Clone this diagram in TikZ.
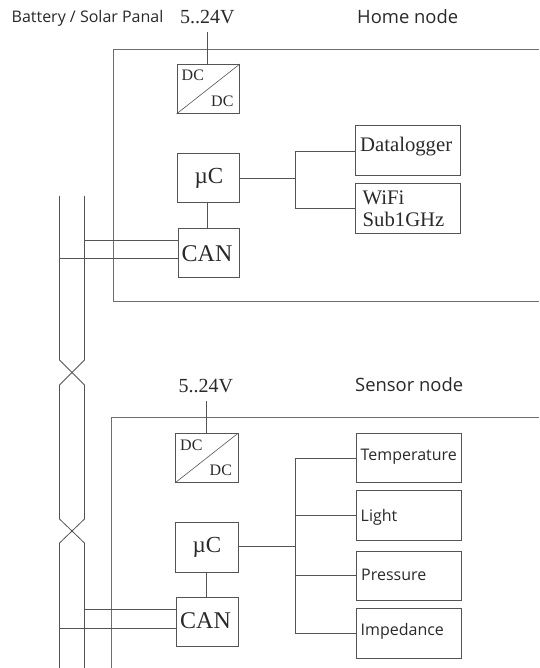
\documentclass[tikz,border=0pt]{standalone}
\usepackage{fontspec}
\setmainfont{Liberation Serif}
\newfontfamily\uifont{Open Sans}
\definecolor{ln}{gray}{0.33}
\definecolor{tx}{gray}{0.16}
\tikzset{
  x=1pt,y=-1pt,
  wire/.style={draw=ln,line width=0.8pt},
  blockbox/.style={draw=ln,line width=0.9pt,fill=none},
  ser/.style={text=tx,inner sep=0pt,anchor=base west},
  ui/.style={text=tx,inner sep=0pt,anchor=base west,font=\uifont\fontsize{16}{18}\selectfont},
  uibig/.style={ui,font=\uifont\fontsize{18.4}{20}\selectfont},
  volt/.style={ser,font=\fontsize{20}{22}\selectfont},
  dctext/.style={ser,font=\fontsize{16}{18}\selectfont},
  muc/.style={ser,font=\fontsize{23}{25}\selectfont},
  cantext/.style={ser,font=\fontsize{24}{26}\selectfont},
  devtext/.style={ser,font=\fontsize{20.7}{23}\selectfont},
}
\newcommand{\boxat}[5]{\node[blockbox,rectangle,minimum width=#3pt-#2pt,minimum height=#5pt-#4pt,inner sep=0pt,anchor=north west] (#1) at (#2,#4) {};}
\begin{document}
\begin{tikzpicture}
\useasboundingbox (0,0) rectangle (539,668);
% outer frames
\coordinate (hTR) at (539,49); \coordinate (hTL) at (113,49);
\coordinate (hBL) at (113,301); \coordinate (hBR) at (539,301);
\draw[wire,draw=ln!85] (hTR) -- (hTL) -- (hBL) -- (hBR);
\coordinate (sTR) at (539,417.5); \coordinate (sTL) at (111,417.5);
\coordinate (sBL) at (111,668);
\draw[wire,draw=ln!85] (sTR) -- (sTL) -- (sBL);
% home blocks
\boxat{hdc}{176.5}{239}{64}{113}
\boxat{huc}{176.5}{239}{153.5}{202}
\boxat{hcan}{177.5}{239}{228}{277}
\boxat{dl}{355}{460}{125.5}{175}
\boxat{wf}{355}{460}{183}{232.5}
\draw[wire,line width=0.6pt] (hdc.south west) -- (hdc.north east);
% sensor blocks
\boxat{sdc}{175}{237.5}{433}{482}
\boxat{suc}{175}{237.5}{522}{571.5}
\boxat{scan}{175.5}{237.5}{597}{646}
\boxat{te}{355.5}{460.5}{433}{482.3}
\boxat{li}{355.5}{460.5}{490.3}{540}
\boxat{pr}{355.5}{460.5}{550.5}{600}
\boxat{im}{355.5}{460.5}{608}{657.5}
\draw[wire,line width=0.6pt] (sdc.south west) -- (sdc.north east);
% text
\node[ui] (t1) at (11.5,23) {Battery / Solar Panal};
\node[volt] (t2) at (180,24) {5..24V};
\node[uibig] (t3) at (357,24) {Home node};
\node[volt] (t4) at (178.5,392.5) {5..24V};
\node[uibig] (t5) at (355,391.7) {Sensor node};
\node[dctext] (a1) at (181.5,81) {DC};
\node[dctext] (a2) at (211,106.7) {DC};
\node[muc] (a3) at (194.5,184) {µC};
\node[cantext] (a4) at (181.5,261) {CAN};
\node[devtext] (a5) at (360,152) {Datalogger};
\node[devtext] (a6) at (362.5,204.5) {WiFi};
\node[devtext] (a7) at (362.5,226) {Sub1GHz};
\node[dctext] (b1) at (180,450.5) {DC};
\node[dctext] (b2) at (209.5,475.7) {DC};
\node[muc] (b3) at (192.5,552.7) {µC};
\node[cantext] (b4) at (180,628) {CAN};
\node[ui] (c1) at (360.5,460) {Temperature};
\node[ui] (c2) at (360.5,521) {Light};
\node[ui] (c3) at (361,580) {Pressure};
\node[ui] (c4) at (360.5,635.7) {Impedance};
% supply wires
\coordinate (hv) at (207.5,32);
\draw[wire] (hv) -- (hv |- hdc.north);
\coordinate (sv) at (206,400.5);
\draw[wire] (sv) -- (sv |- sdc.north);
% uC-CAN
\draw[wire] (huc.south -| hv) -- (hcan.north -| hv);
\draw[wire] (suc.south -| sv) -- (scan.north -| sv);
% home trunk
\coordinate (hj) at (295,178);
\coordinate (ht1) at (295,151); \coordinate (ht2) at (295,208);
\draw[wire] (huc.east |- hj) -- (hj);
\draw[wire] (dl.west |- ht1) -- (ht1) -- (ht2) -- (wf.west |- ht2);
% sensor trunk
\coordinate (sj) at (295.5,546.5);
\coordinate (st1) at (295.5,458.5); \coordinate (st2) at (295.5,515);
\coordinate (st3) at (295.5,575); \coordinate (st4) at (295.5,633);
\draw[wire] (suc.east |- sj) -- (sj);
\draw[wire] (te.west |- st1) -- (st1) -- (st4) -- (im.west |- st4);
\draw[wire] (st2) -- (li.west |- st2);
\draw[wire] (st3) -- (pr.west |- st3);
% twisted pair
\coordinate (lt) at (59.5,196); \coordinate (rt) at (84.5,196);
\coordinate (l1) at (59.5,360); \coordinate (r1) at (84.5,360);
\coordinate (l2) at (59.5,385); \coordinate (r2) at (84.5,385);
\coordinate (l3) at (59.5,519); \coordinate (r3) at (84.5,519);
\coordinate (l4) at (59.5,543); \coordinate (r4) at (84.5,543);
\coordinate (lb) at (59.5,668); \coordinate (rb) at (84.5,668);
\draw[wire] (lt) -- (l1) -- (r2) -- (r3) -- (l4) -- (lb);
\draw[wire] (rt) -- (r1) -- (l2) -- (l3) -- (r4) -- (rb);
% bus taps
\coordinate (h1) at (84.5,240); \coordinate (h2) at (59.5,258);
\coordinate (s1) at (84.5,609.5); \coordinate (s2) at (59.5,628);
\draw[wire] (h1) -- (hcan.west |- h1);
\draw[wire] (h2) -- (hcan.west |- h2);
\draw[wire] (s1) -- (scan.west |- s1);
\draw[wire] (s2) -- (scan.west |- s2);
\end{tikzpicture}
\end{document}
